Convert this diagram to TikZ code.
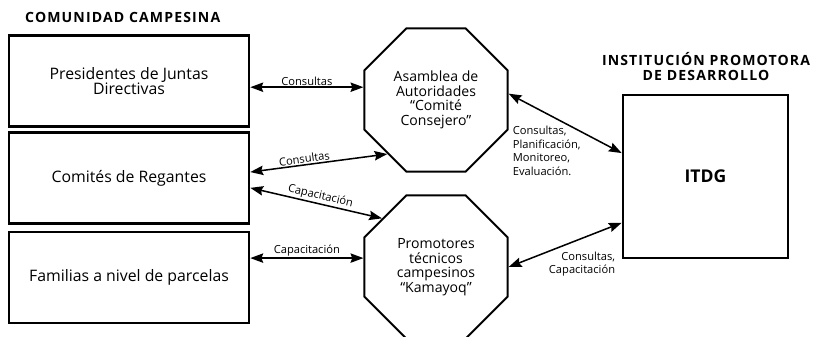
\documentclass[tikz,border=0pt]{standalone}
\usepackage{fontspec}
\setmainfont{Open Sans}
\usetikzlibrary{positioning, shapes.geometric, arrows.meta}

\tikzset{
  bloque/.style={draw, line width=2.2pt, minimum width=7.2cm, minimum height=2.73cm, align=center, font=\fontsize{13.5}{13}\selectfont},
  octo/.style={draw, regular polygon, regular polygon sides=8, line width=1.7pt, minimum size=4.65cm, inner sep=0pt, align=center, font=\fontsize{12}{12.4}\selectfont},
  flecha/.style={<->, line width=1.3pt},
  etiq/.style={font=\fontsize{9.5}{11.7}\selectfont, inner sep=1pt},
  titulo/.style={font=\bfseries\fontsize{12}{12.8}\selectfont\addfontfeature{LetterSpace=8}, align=center, inner sep=0pt}
}

\begin{document}
\begin{tikzpicture}[x=0.03cm, y=-0.03cm, >={Stealth[length=11pt, width=8pt, inset=1.5pt]}]
	\useasboundingbox (0,0) rectangle (814,337);
	% comunidad campesina
	\node[titulo, anchor=west] (comunidad) at (25,17) {COMUNIDAD CAMPESINA};
	\node[bloque] (pres) at (129,81) {Presidentes de Juntas\\Directivas};
	\node[bloque, below=0.1cm of pres] (regantes) {Comités de Regantes};
	\node[bloque, below=0.18cm of regantes] (familias) {Familias a nivel de parcelas};
	% organos intermedios
	\node[octo] (asamblea) at (436,100) {Asamblea de\\Autoridades\\“Comité\\Consejero”};
	\node[octo] (promotores) at (436,267) {Promotores\\técnicos\\campesinos\\“Kamayoq”};
	% institucion
	\node[draw, line width=2.2pt, minimum width=4.95cm, minimum height=4.89cm, font=\bfseries\fontsize{15}{15}\selectfont] (itdg) at (705.5,176.5) {ITDG};
	\node[titulo] (institucion) at (706,67) {INSTITUCIÓN PROMOTORA\\DE DESARROLLO};
	% relaciones
	\draw[flecha] (pres.east |- asamblea.170) -- (asamblea.170) node[midway, above, etiq] {Consultas};
	\draw[flecha] ([yshift=5pt]regantes.east) -- (asamblea.228) node[pos=0.4, above, sloped, etiq] {Consultas};
	\draw[flecha] ([yshift=-8.5pt]regantes.east) -- (promotores.138) node[pos=0.52, above, sloped, etiq] {Capacitación};
	\draw[flecha] (familias.east |- promotores.173) -- (promotores.173) node[midway, above, etiq] {Capacitación};
	\draw[flecha] (asamblea.5) -- ([yshift=20pt]itdg.west) node[at start, anchor=north west, xshift=2pt, yshift=-26pt, etiq, align=left] {Consultas,\\Planificación,\\Monitoreo,\\Evaluación.};
	\draw[flecha] (promotores.east) -- ([yshift=-39.5pt]itdg.west) node[at end, anchor=north east, xshift=-4pt, yshift=-23pt, etiq, align=right] {Consultas,\\Capacitación};
\end{tikzpicture}
\end{document}
